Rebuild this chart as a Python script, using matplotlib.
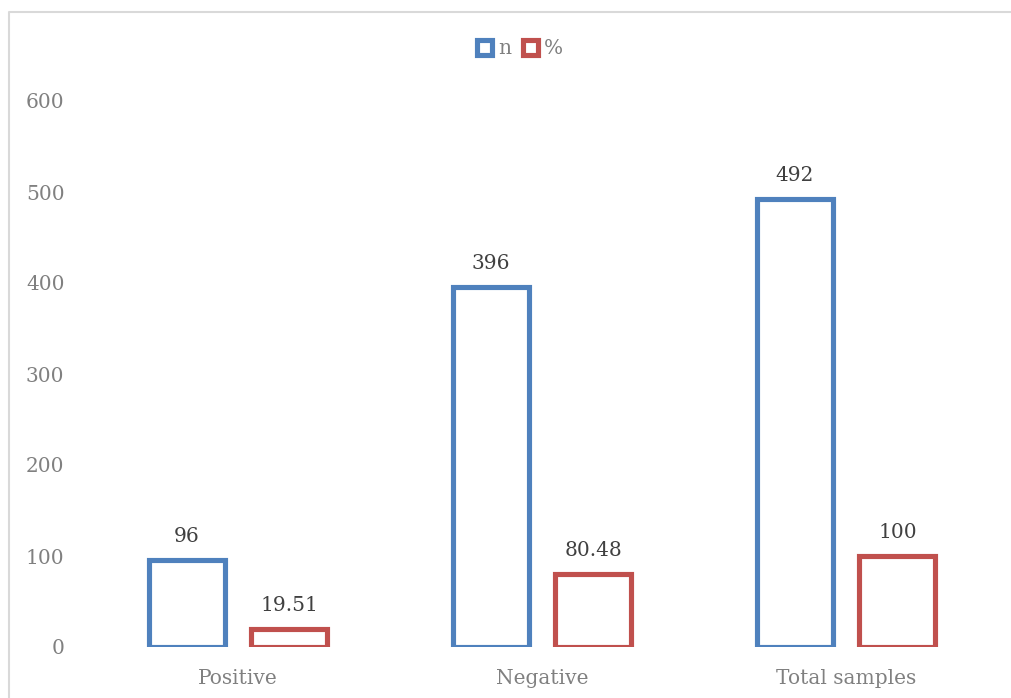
import matplotlib
matplotlib.use("Agg")
import matplotlib.pyplot as plt
import numpy as np
from matplotlib.patches import Rectangle
from matplotlib.lines import Line2D

categories = ["Positive", "Negative", "Total samples"]
n_values = [96, 396, 492]
pct_values = [19.51, 80.48, 100]
n_labels = ["96", "396", "492"]
pct_labels = ["19.51", "80.48", "100"]
yticks = [0, 100, 200, 300, 400, 500, 600]

blue = "#4f81bd"
red = "#c0504d"
font = "DejaVu Serif"
fs = 14.5

fig = plt.figure(figsize=(10.12, 6.98), dpi=100)
# chart border: only left and top edges are inside the image
bx, by = 8.5/1012, 1 - 11.5/698
fig.add_artist(Line2D([bx, bx, 1.1], [-0.1, by, by], transform=fig.transFigure,
                      color="#d9d9d9", linewidth=1.5, zorder=0))

ax = fig.add_axes([86/1012, 1 - 647/698, 912/1012, 546/698])
x = np.arange(len(categories))
w = 0.25
off = 0.169
ax.bar(x - off, n_values, w, facecolor="white", edgecolor=blue, linewidth=3.7)
ax.bar(x + off, pct_values, w, facecolor="white", edgecolor=red, linewidth=3.7)

for xi, v, lab in zip(x - off, n_values, n_labels):
    ax.annotate(lab, (xi, v), xytext=(0, 10), textcoords="offset points", ha="center",
                va="bottom", fontsize=fs, color="#404040", family=font)
for xi, v, lab in zip(x + off, pct_values, pct_labels):
    ax.annotate(lab, (xi, v), xytext=(0, 10), textcoords="offset points", ha="center",
                va="bottom", fontsize=fs, color="#404040", family=font)

ax.set_xlim(-0.5, 2.5)
ax.set_ylim(0, 600)
ax.set_yticks(yticks)
ax.set_yticklabels([str(t) for t in yticks], family=font, fontsize=fs, color="#808080")
ax.set_xticks(x)
ax.set_xticklabels(categories, family=font, fontsize=fs, color="#808080")
ax.tick_params(axis="x", length=0, pad=16)
ax.tick_params(axis="y", length=0, pad=15.5)
for s in ax.spines.values():
    s.set_visible(False)

handles = [Rectangle((0, 0), 1, 1, facecolor="white", edgecolor=blue, linewidth=3.7),
           Rectangle((0, 0), 1, 1, facecolor="white", edgecolor=red, linewidth=3.7)]
fig.legend(handles, ["n", "%"], loc="center", bbox_to_anchor=(520/1012, 1 - 49/698),
           ncol=2, frameon=False, prop={"family": font, "size": fs},
           labelcolor="#808080", handlelength=0.75, handleheight=0.75,
           handletextpad=0.3, columnspacing=0.6)

fig.savefig("out.png", dpi=100, facecolor="white")
